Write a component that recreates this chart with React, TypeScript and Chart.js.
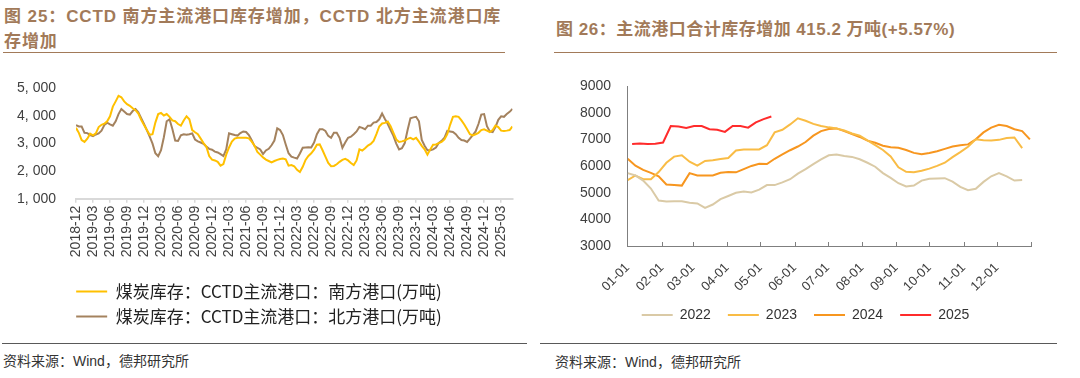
import React, { useEffect, useRef } from 'react';
import { Chart, registerables } from 'chart.js';

Chart.register(...registerables);

// ---------- Left chart (figure 25) ----------
const LEFT_TICK_LABELS = [
  '2018-12', '2019-03', '2019-06', '2019-09', '2019-12', '2020-03', '2020-06', '2020-09',
  '2020-12', '2021-03', '2021-06', '2021-09', '2021-12', '2022-03', '2022-06', '2022-09',
  '2022-12', '2023-03', '2023-06', '2023-09', '2023-12', '2024-03', '2024-06', '2024-09',
  '2024-12', '2025-03',
];
const LEFT_Y_TICKS = [1000, 2000, 3000, 4000, 5000];

// half-month samples starting 2018-12 (万吨)
const SOUTH_PORTS = [
  3570, 3390, 3130, 3060, 3180, 3360, 3300, 3370, 3600, 3680,
  3720, 3810, 3990, 4340, 4530, 4730, 4680, 4530, 4430, 4370,
  4280, 4210, 4090, 3860, 3670, 3490, 3320, 3340, 3760, 4070,
  4110, 4020, 4070, 3970, 3840, 3810, 3710, 3650, 3840, 3990,
  3880, 3490, 3410, 3340, 3180, 3020, 2890, 2550, 2420, 2390,
  2340, 2200, 2260, 2600, 2860, 3070, 3180, 3210, 3210, 3210,
  3210, 3190, 3070, 2920, 2700, 2600, 2500, 2420, 2370, 2320,
  2370, 2410, 2440, 2460, 2430, 2200, 2220, 2180, 2050, 1970,
  2160, 2410, 2550, 2650, 2780, 2960, 2970, 2760, 2530, 2300,
  2180, 2190, 2250, 2340, 2410, 2450, 2390, 2300, 2220, 2390,
  2790, 2750, 2830, 2930, 2990, 3100, 3340, 3620, 3730, 3750,
  3800, 3630, 3390, 3150, 3060, 3080, 3110, 3170, 3210, 3150,
  3210, 3070, 2920, 2790, 2600, 2790, 2960, 2970, 3020, 3060,
  3150, 3340, 3680, 3970, 3990, 3970, 3840, 3690, 3520, 3340,
  3300, 3340, 3390, 3490, 3520, 3470, 3420, 3490, 3650, 3600,
  3470, 3460, 3470, 3490, 3620,
];
const NORTH_PORTS = [
  3670, 3620, 3620, 3390, 3380, 3310, 3270, 3330, 3370, 3470,
  3670, 3760, 3700, 3650, 3810, 4070, 4250, 4160, 4070, 4050,
  4180, 4250, 4130, 3920, 3710, 3490, 3250, 3000, 2650, 2540,
  2760, 3230, 3810, 3880, 3530, 3110, 3100, 3300, 3340, 3320,
  3340, 3370, 3150, 3080, 3040, 2990, 2890, 2810, 2780, 2710,
  2680, 2620, 2550, 2790, 3370, 3340, 3310, 3290, 3380, 3440,
  3420, 3310, 3120, 2910, 2850, 2790, 2620, 2750, 2810, 2940,
  3110, 3550, 3490, 3310, 2970, 2650, 2530, 2490, 2460, 2640,
  2850, 2860, 2870, 2860, 3040, 3340, 3520, 3520, 3460, 3280,
  3210, 3390, 3390, 3210, 2850, 3040, 3210, 3250, 3340, 3440,
  3600, 3570, 3520, 3650, 3650, 3760, 3780, 3880, 4090, 3890,
  3710, 3490, 3280, 3000, 2790, 2830, 3020, 3490, 3920, 3950,
  3970, 3810, 3130, 2920, 2760, 2760, 2790, 2860, 3020, 3100,
  3210, 3460, 3440, 3420, 3340, 3210, 3130, 3110, 3060, 3180,
  3310, 3440, 3710, 4050, 4070, 3630, 3440, 3420, 3600, 3860,
  3990, 3970, 4070, 4150, 4260,
];

// ---------- Right chart (figure 26) ----------
const MONTH_LABELS = ['01-01', '02-01', '03-01', '04-01', '05-01', '06-01', '07-01', '08-01', '09-01', '10-01', '11-01', '12-01'];
const MONTH_START_DAYS = [0, 31, 59, 90, 120, 151, 181, 212, 243, 273, 304, 334];
const RIGHT_Y_TICKS = [3000, 4000, 5000, 6000, 7000, 8000, 9000];

// weekly samples (万吨)
const Y2022 = [
  5740, 5650, 5460, 5160, 4710, 4670, 4680, 4680, 4630, 4600,
  4430, 4560, 4760, 4880, 5000, 5050, 5010, 5120, 5290, 5290,
  5390, 5510, 5720, 5890, 6080, 6260, 6410, 6440, 6380, 6350,
  6260, 6130, 5980, 5740, 5560, 5360, 5240, 5270, 5460, 5530,
  5540, 5550, 5420, 5220, 5100, 5150, 5410, 5620, 5740, 5620,
  5460, 5480,
];
const Y2023 = [
  5480, 5650, 5510, 5510, 5780, 6130, 6360, 6410, 6170, 6020,
  6200, 6220, 6270, 6310, 6590, 6630, 6630, 6630, 6790, 7270,
  7370, 7570, 7800, 7710, 7590, 7510, 7460, 7420, 7340, 7230,
  7150, 6970, 6790, 6610, 6370, 5960, 5790, 5770, 5830, 5910,
  6010, 6130, 6340, 6530, 6730, 7010, 6980, 6970, 6990, 7060,
  7080, 6680,
];
const Y2024 = [
  6280, 6020, 5860, 5750, 5620, 5310, 5290, 5270, 5740, 5650,
  5650, 5650, 5750, 5780, 5770, 5890, 6010, 6090, 6080, 6280,
  6440, 6600, 6740, 6910, 7150, 7320, 7400, 7420, 7320, 7210,
  7100, 6960, 6880, 6770, 6710, 6690, 6610, 6500, 6450, 6500,
  6560, 6650, 6740, 6790, 6820, 7010, 7270, 7450, 7560, 7510,
  7390, 7320, 7010,
];
const Y2025 = [
  6830, 6850, 6830, 6840, 6890, 7510, 7490, 7440, 7510, 7510,
  7390, 7370, 7290, 7510, 7510, 7450, 7650, 7770, 7870,
];
const FIRST_DAY = { y2022: 0, y2023: 0, y2024: 0, y2025: 4 };

const FONT_LATIN = '"Liberation Sans", Arial, sans-serif';
const FONT_CJK = '"Noto Sans CJK SC", "Liberation Sans", sans-serif';
const FONT_MIXED = '"Liberation Sans", "Noto Sans CJK SC", sans-serif';

const fmtThousands = (v: number) => `${Math.floor(v / 1000)}, ${String(v % 1000).padStart(3, '0')}`;
const weekly = (vals: number[], firstDay: number) => vals.map((v, i) => ({ x: firstDay + i * 7, y: v }));

const lineLegendLabels = (chart: any) =>
  chart.data.datasets.map((ds: any, i: number) => ({
    text: ds.label,
    fillStyle: ds.borderColor,
    strokeStyle: ds.borderColor,
    fontColor: chart.options.plugins.legend.labels.color,
    lineWidth: 0,
    hidden: false,
    datasetIndex: i,
  }));

const inwardTicks = {
  id: 'inwardTicks',
  afterDraw(chart: any) {
    const { ctx, chartArea, scales } = chart;
    const xs = scales.x;
    ctx.save();
    ctx.strokeStyle = '#7F7F7F';
    ctx.lineWidth = 1;
    ctx.beginPath();
    [...MONTH_START_DAYS.slice(1), 365].forEach((d) => {
      const px = Math.round(xs.getPixelForValue(d)) + 0.5;
      ctx.moveTo(px, chartArea.bottom);
      ctx.lineTo(px, chartArea.bottom - 4);
    });
    ctx.stroke();
    ctx.restore();
  },
};

export default function App() {
  const leftRef = useRef<HTMLCanvasElement>(null);
  const rightRef = useRef<HTMLCanvasElement>(null);

  useEffect(() => {
    const left = new Chart(leftRef.current as HTMLCanvasElement, {
      type: 'line',
      data: {
        datasets: [
          {
            label: '煤炭库存：CCTD主流港口：南方港口(万吨)',
            data: SOUTH_PORTS.map((v, k) => ({ x: k / 2, y: v })),
            borderColor: '#FFC000',
            backgroundColor: '#FFC000',
            borderWidth: 2,
            pointRadius: 0,
            tension: 0,
          },
          {
            label: '煤炭库存：CCTD主流港口：北方港口(万吨)',
            data: NORTH_PORTS.map((v, k) => ({ x: k / 2, y: v })),
            borderColor: '#A4825E',
            backgroundColor: '#A4825E',
            borderWidth: 2,
            pointRadius: 0,
            tension: 0,
          },
        ],
      },
      options: {
        responsive: false,
        animation: false,
        devicePixelRatio: 1,
        events: [],
        layout: { padding: { left: 0, right: 3, top: 12.5, bottom: 0 } },
        plugins: {
          tooltip: { enabled: false },
          legend: {
            position: 'bottom',
            align: 'center',
            labels: {
              boxWidth: 31,
              boxHeight: 2,
              padding: 8,
              color: '#222222',
              font: { family: FONT_CJK, size: 17 },
              generateLabels: lineLegendLabels,
            },
          },
        },
        scales: {
          x: {
            type: 'linear',
            min: 0,
            max: 77,
            afterBuildTicks: (s: any) => {
              s.ticks = LEFT_TICK_LABELS.map((_, i) => ({ value: i * 3 }));
            },
            afterFit: (s: any) => {
              s.height = 76.2;
            },
            grid: { display: true, drawOnChartArea: false, drawTicks: true, tickLength: 4, color: '#D9D9D9', lineWidth: 1.5 },
            border: { display: true, color: '#D9D9D9', width: 2 },
            ticks: {
              autoSkip: false,
              minRotation: 90,
              maxRotation: 90,
              padding: 3,
              color: '#404040',
              font: { family: FONT_LATIN, size: 14 },
              callback: (_v: any, i: number) => LEFT_TICK_LABELS[i],
            },
          },
          y: {
            type: 'linear',
            min: 1000,
            max: 5000,
            afterBuildTicks: (s: any) => {
              s.ticks = LEFT_Y_TICKS.map((v) => ({ value: v }));
            },
            afterFit: (s: any) => {
              s.width = 76;
            },
            grid: { display: false, drawTicks: false },
            border: { display: false },
            ticks: {
              padding: 20,
              color: '#404040',
              font: { family: FONT_LATIN, size: 14 },
              callback: (v: any) => fmtThousands(Number(v)),
            },
          },
        },
      },
    } as any);

    const right = new Chart(rightRef.current as HTMLCanvasElement, {
      type: 'line',
      data: {
        datasets: [
          { label: '2022', data: weekly(Y2022, FIRST_DAY.y2022), borderColor: '#DACAA6', backgroundColor: '#DACAA6', borderWidth: 2, pointRadius: 0 },
          { label: '2023', data: weekly(Y2023, FIRST_DAY.y2023), borderColor: '#F9BC45', backgroundColor: '#F9BC45', borderWidth: 2, pointRadius: 0 },
          { label: '2024', data: weekly(Y2024, FIRST_DAY.y2024), borderColor: '#F7961F', backgroundColor: '#F7961F', borderWidth: 2, pointRadius: 0 },
          { label: '2025', data: weekly(Y2025, FIRST_DAY.y2025), borderColor: '#FF2B2B', backgroundColor: '#FF2B2B', borderWidth: 2, pointRadius: 0 },
        ],
      },
      options: {
        responsive: false,
        animation: false,
        devicePixelRatio: 1,
        events: [],
        layout: { padding: { left: 40, right: 3, top: 16.3, bottom: 0 } },
        plugins: {
          tooltip: { enabled: false },
          legend: {
            position: 'bottom',
            align: 'center',
            labels: {
              boxWidth: 31,
              boxHeight: 2,
              padding: 17,
              color: '#333333',
              font: { family: FONT_LATIN, size: 14 },
              generateLabels: lineLegendLabels,
            },
          },
        },
        scales: {
          x: {
            type: 'linear',
            min: 0,
            max: 365,
            afterBuildTicks: (s: any) => {
              s.ticks = MONTH_START_DAYS.map((d) => ({ value: d }));
            },
            afterFit: (s: any) => {
              s.height = 45;
            },
            grid: { display: false },
            border: { display: true, color: '#7F7F7F', width: 1 },
            ticks: {
              autoSkip: false,
              minRotation: 45,
              maxRotation: 45,
              padding: 6,
              color: '#404040',
              font: { family: FONT_LATIN, size: 13 },
              callback: (_v: any, i: number) => MONTH_LABELS[i],
            },
          },
          y: {
            type: 'linear',
            min: 3000,
            max: 9000,
            afterBuildTicks: (s: any) => {
              s.ticks = RIGHT_Y_TICKS.map((v) => ({ value: v }));
            },
            afterFit: (s: any) => {
              s.width = 47.7;
            },
            grid: { display: false },
            border: { display: true, color: '#7F7F7F', width: 1 },
            ticks: {
              crossAlign: 'far',
              padding: 16,
              color: '#404040',
              font: { family: FONT_LATIN, size: 14 },
              callback: (v: any) => String(v),
            },
          },
        },
      },
      plugins: [inwardTicks],
    } as any);

    return () => {
      left.destroy();
      right.destroy();
    };
  }, []);

  const titleStyle: React.CSSProperties = {
    position: 'absolute',
    whiteSpace: 'nowrap',
    fontFamily: FONT_MIXED,
    fontWeight: 700,
    fontSize: 17,
    lineHeight: '24px',
    color: '#A27A59',
  };
  const sourceStyle: React.CSSProperties = {
    position: 'absolute',
    whiteSpace: 'nowrap',
    fontFamily: FONT_MIXED,
    fontSize: 14,
    lineHeight: '20px',
    color: '#333333',
  };

  return (
    <div style={{ position: 'absolute', left: 0, top: 0, width: 1080, height: 378, overflow: 'hidden', background: '#FFFFFF' }}>
      {/* left header */}
      <div style={{ ...titleStyle, left: 4, top: 5, letterSpacing: '0.9px' }}>图 25：CCTD 南方主流港口库存增加，CCTD 北方主流港口库</div>
      <div style={{ ...titleStyle, left: 4, top: 30, letterSpacing: '0.9px' }}>存增加</div>
      <div style={{ position: 'absolute', left: 3, top: 52, width: 502, borderTop: '1.4px solid #A27A59' }} />

      {/* right header */}
      <div style={{ ...titleStyle, left: 556, top: 18, letterSpacing: '0.5px' }}>图 26：主流港口合计库存增加 415.2 万吨(+5.57%)</div>
      <div style={{ position: 'absolute', left: 554, top: 52, width: 503, borderTop: '1.4px solid #A27A59' }} />

      {/* charts */}
      <canvas ref={leftRef} width={521} height={275} style={{ position: 'absolute', left: 0, top: 60, width: 521, height: 275 }} />
      <canvas ref={rightRef} width={494} height={270} style={{ position: 'absolute', left: 540, top: 62, width: 494, height: 270 }} />

      {/* footers */}
      <div style={{ position: 'absolute', left: 2, top: 343, width: 525, borderTop: '1.4px solid #595959' }} />
      <div style={{ position: 'absolute', left: 540, top: 343, width: 517, borderTop: '1.4px solid #595959' }} />
      <div style={{ ...sourceStyle, left: 3, top: 351 }}>资料来源：Wind，德邦研究所</div>
      <div style={{ ...sourceStyle, left: 555, top: 352 }}>资料来源：Wind，德邦研究所</div>
    </div>
  );
}
